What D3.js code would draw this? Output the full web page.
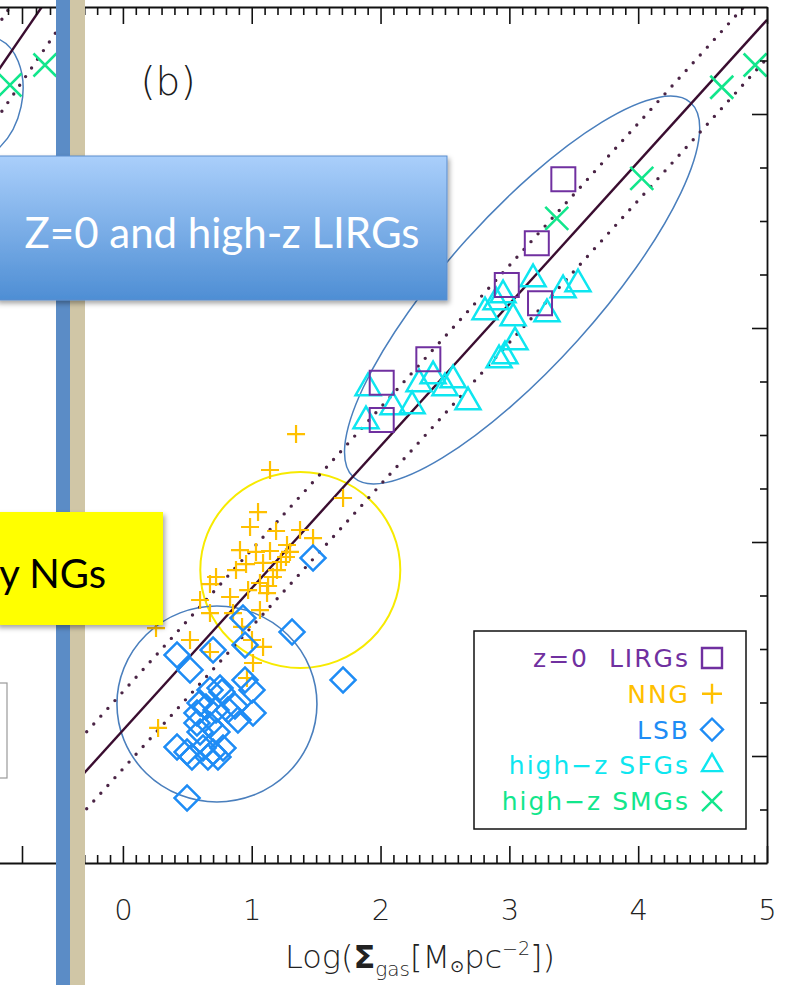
<!DOCTYPE html>
<html>
<head>
<meta charset="utf-8">
<script src="https://cdn.jsdelivr.net/npm/d3@7"></script>
<style>
  body { margin: 0; background: #fff; }
  svg { display: block; }
</style>
</head>
<body>
<svg id="chart" width="785" height="985"></svg>
<script>
// ---- Data: log Sigma_gas (x) vs log Sigma_SFR (y) ----
const lirgX = [3.419, 3.213, 2.980, 3.238, 2.371, 2.009, 2.009];
const lirgY = [1.390, 0.792, 0.402, 0.231, -0.293, -0.511, -0.860];

const smgX = [3.368, 4.028, 4.649, 4.908];
const smgY = [1.025, 1.399, 2.250, 2.458];

const sfgX = [3.184, 3.417, 3.533, 2.811, 2.951, 2.897, 3.029, 3.292, 3.044, 2.966,
              2.920, 2.408, 2.299, 2.563, 2.500, 2.679, 2.097, 1.903, 1.887, 2.245];
const sfgY = [0.458, 0.355, 0.411, 0.150, 0.308, 0.243, 0.093, 0.131, -0.131, -0.262,
              -0.299, -0.449, -0.523, -0.486, -0.561, -0.692, -0.738, -0.561, -0.869, -0.729];

const nngX = [1.344, 1.142, 1.709, 1.049, 0.987, 1.189, 1.375, 1.476, 0.909, 1.033,
              1.142, 1.297, 0.956, 1.088, 1.196, 1.266, 0.723, 0.878, 0.676, 0.832,
              1.064, 1.119, 1.165, 0.599, 0.676, 0.855, 1.064, 0.925, 1.002, 1.088,
              0.521, 0.257, 0.273, 1.010, 0.963, 0.676, 1.227, 1.127, 0.972, 1.274];
const nngY = [-0.991, -1.327, -1.589, -1.720, -1.860, -1.897, -1.888, -1.963, -2.075, -2.093,
              -2.084, -2.093, -2.206, -2.196, -2.262, -2.140, -2.327, -2.262, -2.393, -2.514,
              -2.383, -2.477, -2.327, -2.542, -2.664, -2.664, -2.636, -2.794, -2.916, -2.981,
              -2.916, -2.804, -3.738, -3.131, -3.271, -3.028, -2.187, -2.411, -2.449, -2.028];

const lsbX = [1.476, 0.932, 1.313, 0.948, 0.700, 0.420, 0.521, 1.709, 0.948, 1.002,
              1.010, 0.676, 0.769, 0.599, 0.723, 0.816, 0.575, 0.575, 0.676, 0.730,
              0.599, 0.420, 0.498, 0.536, 0.622, 0.700, 0.777, 0.660, 0.738, 0.498,
              0.754, 0.645, 0.870, 0.893];
const lsbY = [-2.150, -2.710, -2.841, -2.963, -3.009, -3.056, -3.196, -3.290, -3.290, -3.383,
              -3.598, -3.383, -3.402, -3.505, -3.570, -3.570, -3.598, -3.692, -3.710, -3.776,
              -3.776, -3.916, -3.963, -4.009, -3.925, -3.963, -3.925, -4.009, -4.009, -4.393,
              -3.364, -3.542, -3.533, -3.664];

// Fitted relation and its scatter band (panel b)
const fitB = { intercept: -3.76, slope: 1.328, scatter: 0.36 };
// Neighbouring panel (a): fit, scatter and the SMG points at its right edge
const fitA = { intercept: -4.91, slope: 1.91, scatter: 0.43 };
const smgAX = [3.914, 4.164];
const smgAY = [2.271, 2.458];

// Group outlines: centre of each enclosing ellipse (data units)
const groupCentersX = [3.099, 1.377, 0.730];
const groupCentersY = [0.355, -2.262, -3.514];
const groupACenter = [3.70, 2.15];

const xTickValues = [0, 1, 2, 3, 4, 5];
const xTickLabels = ["0", "1", "2", "3", "4", "5"];
const legendLabels = ["z=0  LIRGs", "NNG", "LSB", "high\u2212z SFGs", "high\u2212z SMGs"];
const panelLabel = "(b)";
const calloutBlue = "Z=0 and high-z LIRGs";
const calloutYellow = "y NGs";

// ---- Layout ----
const svg = d3.select("#chart");
const pL = 58.5, pR = 767, pT = 7, pB = 863;
const x = d3.scaleLinear().domain([-0.5, 5]).range([pL, pR]);
const y = d3.scaleLinear().domain([-5, 3]).range([pB, pT]);
const xa = d3.scaleLinear().domain([-0.5, 4.2679]).range([-608, 59.5]);

const COL = {
  lirg: "#7030a0", nng: "#ffc000", lsb: "#1e8cf5", sfg: "#0ee6f0", smg: "#12e68c",
  fit: "#3a0d30", dots: "#4a2445", ring: "#4a7fbd", ringY: "#f7ea00"
};
const FONT = "'DejaVu Sans', sans-serif";

svg.append("rect").attr("width", 785).attr("height", 985).attr("fill", "#fff");

const defs = svg.append("defs");
defs.append("clipPath").attr("id", "clipB").append("rect")
  .attr("x", pL).attr("y", pT).attr("width", pR - pL).attr("height", pB - pT);
defs.append("clipPath").attr("id", "clipA").append("rect")
  .attr("x", -700).attr("y", pT).attr("width", 759.5).attr("height", pB - pT);
const sh = defs.append("filter").attr("id", "shadow")
  .attr("x", "-10%").attr("y", "-10%").attr("width", "125%").attr("height", "135%");
sh.append("feDropShadow").attr("dx", 2).attr("dy", 3).attr("stdDeviation", 2.5)
  .attr("flood-color", "#000").attr("flood-opacity", 0.35);
const grad = defs.append("linearGradient").attr("id", "blueGrad")
  .attr("x1", 0).attr("y1", 0).attr("x2", 0).attr("y2", 1);
grad.append("stop").attr("offset", "0%").attr("stop-color", "#aacffb");
grad.append("stop").attr("offset", "100%").attr("stop-color", "#4e8ed4");

// ---- Marker shapes ----
function markerPath(shape, s) {
  switch (shape) {
    case "square": return d3.symbol(d3.symbolSquare, s * s)();
    case "diamond": return d3.symbol(d3.symbolSquare, s * s / 2)();
    case "triangle": return d3.symbol(d3.symbolTriangle, 0.433 * s * s)();
    case "plus": { const h = s / 2; return `M${-h},0H${h}M0,${-h}V${h}`; }
    case "cross": { const h = s / 2; return `M${-h},${-h}L${h},${h}M${-h},${h}L${h},${-h}`; }
  }
}
function drawPoints(g, xs, ys, sx, sy, shape, size, color, width) {
  g.append("g").selectAll("path").data(xs.map((v, i) => [v, ys[i]])).join("path")
    .attr("d", markerPath(shape, size))
    .attr("transform", d => `translate(${sx(d[0])},${sy(d[1])})` + (shape === "diamond" ? " rotate(45)" : ""))
    .attr("fill", "none").attr("stroke", color).attr("stroke-width", width)
    .attr("stroke-linejoin", "miter");
}
function drawFit(g, sx, fit, x0, x1) {
  const line = d3.line().x(d => sx(d[0])).y(d => y(d[1]));
  const pts = off => [[x0, fit.intercept + fit.slope * x0 + off], [x1, fit.intercept + fit.slope * x1 + off]];
  g.append("path").attr("d", line(pts(0))).attr("stroke", COL.fit).attr("stroke-width", 2.4).attr("fill", "none");
  [fit.scatter, -fit.scatter].forEach(off => {
    g.append("path").attr("d", line(pts(off))).attr("stroke", COL.dots).attr("stroke-width", 3.4)
      .attr("stroke-linecap", "round").attr("stroke-dasharray", "0 10.5").attr("fill", "none");
  });
}

// ---- Panel (a), right edge only ----
const gA = svg.append("g").attr("clip-path", "url(#clipA)");
gA.append("ellipse")
  .attr("cx", xa(groupACenter[0])).attr("cy", y(groupACenter[1]))
  .attr("rx", 42).attr("ry", 62)
  .attr("transform", `rotate(12,${xa(groupACenter[0])},${y(groupACenter[1])})`)
  .attr("fill", "none").attr("stroke", COL.ring).attr("stroke-width", 1.5);
drawFit(gA, xa, fitA, 2.5, 4.4);
drawPoints(gA, smgAX, smgAY, xa, y, "cross", 23, COL.smg, 2.5);

// ---- Panel (b) ----
const gB = svg.append("g").attr("clip-path", "url(#clipB)");
const ringSpec = [
  { rx: 252, ry: 75, rot: -48, color: COL.ring, w: 1.5 },
  { rx: 100, ry: 98, rot: 0, color: COL.ringY, w: 2 },
  { rx: 100, ry: 98, rot: 0, color: COL.ring, w: 1.6 }
];
ringSpec.forEach((r, i) => {
  const cx = x(groupCentersX[i]), cy = y(groupCentersY[i]);
  gB.append("ellipse").attr("cx", cx).attr("cy", cy).attr("rx", r.rx).attr("ry", r.ry)
    .attr("transform", `rotate(${r.rot},${cx},${cy})`)
    .attr("fill", "none").attr("stroke", r.color).attr("stroke-width", r.w);
});
drawFit(gB, x, fitB, -0.5, 5);

drawPoints(gB, nngX, nngY, x, y, "plus", 18, COL.nng, 2.2);
drawPoints(gB, lsbX, lsbY, x, y, "diamond", 25, COL.lsb, 2.5);
drawPoints(gB, sfgX, sfgY, x, y, "triangle", 25, COL.sfg, 2.5);
drawPoints(gB, lirgX, lirgY, x, y, "square", 24, COL.lirg, 2);
drawPoints(gB, smgX, smgY, x, y, "cross", 23, COL.smg, 2.6);

// ---- Legend ----
const legShapes = ["square", "plus", "diamond", "triangle", "cross"];
const legColors = [COL.lirg, COL.nng, COL.lsb, COL.sfg, COL.smg];
const leg = svg.append("g");
leg.append("rect").attr("x", 474).attr("y", 631).attr("width", 272).attr("height", 198)
  .attr("fill", "#fff").attr("stroke", "#111").attr("stroke-width", 1.5);
legendLabels.forEach((lab, i) => {
  const cy = 658 + i * 35.8;
  leg.append("text").attr("x", 690).attr("y", cy).attr("dy", "0.36em")
    .attr("text-anchor", "end").attr("font-family", FONT).attr("font-size", 25)
    .attr("letter-spacing", 2)
    .attr("fill", legColors[i]).attr("xml:space", "preserve").text(lab);
  leg.append("path").attr("d", markerPath(legShapes[i], legShapes[i] === "diamond" ? 22 : 20))
    .attr("transform", `translate(712,${cy})` + (legShapes[i] === "diamond" ? " rotate(45)" : ""))
    .attr("fill", "none").attr("stroke", legColors[i]).attr("stroke-width", 2.4);
});

// ---- Axes ----
function styleAxis(g) {
  g.selectAll("line").attr("stroke", "#111").attr("stroke-width", 1.6);
  g.selectAll(".domain").attr("stroke", "#111").attr("stroke-width", 1.8);
}
function tickAxis(axisFn, scale, pos, vals, size, keepDomain) {
  const g = svg.append("g").attr("transform", pos)
    .call(axisFn(scale).tickValues(vals).tickSize(size).tickSizeOuter(0).tickFormat(""));
  if (!keepDomain) g.select(".domain").remove();
  styleAxis(g);
  return g;
}
const xMinor = d3.range(-4, 51).map(v => v / 10).filter(v => !Number.isInteger(v));
const yMinor = d3.range(-9, 6).map(v => v / 2).filter(v => v % 2 !== 0);
const yMajor = [-4, -2, 0, 2];

// panel (b): top, bottom, right
tickAxis(d3.axisTop, x, `translate(0,${pT})`, xMinor, -8, false);
tickAxis(d3.axisTop, x, `translate(0,${pT})`, xTickValues, -17, true);
tickAxis(d3.axisBottom, x, `translate(0,${pB})`, xMinor, -8, false);
const xb = svg.append("g").attr("transform", `translate(0,${pB})`)
  .call(d3.axisBottom(x).tickValues(xTickValues).tickSize(-17).tickSizeOuter(0)
    .tickPadding(40).tickFormat((d, i) => xTickLabels[i]));
styleAxis(xb);
xb.selectAll("text").attr("font-family", FONT).attr("font-weight", 200)
  .attr("font-size", 29).attr("fill", "#222").attr("dy", "0.71em")
  .attr("y", 36);
tickAxis(d3.axisRight, y, `translate(${pR},0)`, yMinor, -7, false);
tickAxis(d3.axisRight, y, `translate(${pR},0)`, yMajor, -15, true);

// panel (a): top, bottom, right edge
const xaMinor = [3.9, 4.1, 4.2];
tickAxis(d3.axisTop, xa, `translate(0,${pT})`, xaMinor, -8, true);
tickAxis(d3.axisTop, xa, `translate(0,${pT})`, [4], -17, false);
tickAxis(d3.axisBottom, xa, `translate(0,${pB})`, [4], -17, true);
tickAxis(d3.axisLeft, y, `translate(59.5,0)`, yMinor, -7, false);
tickAxis(d3.axisLeft, y, `translate(59.5,0)`, yMajor, -15, false);

// axis title
const title = svg.append("text").attr("x", 420).attr("y", 968).attr("text-anchor", "middle")
  .attr("font-family", FONT).attr("font-weight", 200).attr("font-size", 32).attr("fill", "#222");
title.append("tspan").text("Log(");
title.append("tspan").attr("font-weight", "bold").text("\u03A3");
title.append("tspan").attr("font-size", 20).attr("dy", 8).text("gas");
title.append("tspan").attr("dy", -8).text("[M");
title.append("tspan").attr("font-size", 17).attr("dy", 4).text("\u2299");
title.append("tspan").attr("dy", -4).text("pc");
title.append("tspan").attr("font-size", 19).attr("dy", -13).text("\u22122");
title.append("tspan").attr("dy", 13).text("])");

// panel label
svg.append("text").attr("x", 168).attr("y", 95).attr("text-anchor", "middle")
  .attr("font-family", FONT).attr("font-weight", 200).attr("font-size", 39)
  .attr("fill", "#1a1a1a").text(panelLabel);

// ---- Slide overlays: divider bars and callouts ----
svg.append("rect").attr("x", 56).attr("y", 0).attr("width", 14).attr("height", 985).attr("fill", "#5b8cc6");
svg.append("rect").attr("x", 70).attr("y", 0).attr("width", 15).attr("height", 985).attr("fill", "#d0c6a6");

svg.append("rect").attr("x", -20).attr("y", 683).attr("width", 27).attr("height", 95)
  .attr("fill", "#fff").attr("stroke", "#9a9a9a").attr("stroke-width", 1.2);

svg.append("rect").attr("x", -4).attr("y", 156).attr("width", 451).attr("height", 144)
  .attr("fill", "url(#blueGrad)").attr("stroke", "#5a8dcd").attr("stroke-width", 1)
  .attr("filter", "url(#shadow)");
svg.append("text").attr("x", 222).attr("y", 248).attr("text-anchor", "middle")
  .attr("font-family", "Lato, 'Open Sans', sans-serif").attr("font-size", 42)
  .attr("fill", "#fff").text(calloutBlue);

svg.append("rect").attr("x", -4).attr("y", 512).attr("width", 167).attr("height", 113)
  .attr("fill", "#ffff00").attr("filter", "url(#shadow)");
svg.append("text").attr("x", 106).attr("y", 588).attr("text-anchor", "end")
  .attr("font-family", "Lato, 'Open Sans', sans-serif").attr("font-size", 40)
  .attr("fill", "#000").text(calloutYellow);
</script>
</body>
</html>
